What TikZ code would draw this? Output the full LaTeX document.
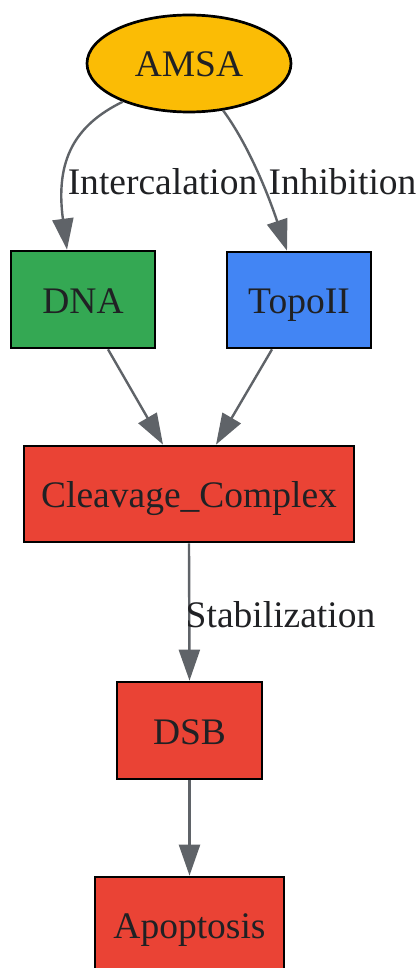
\documentclass[tikz,border=0pt]{standalone}
\usepackage{fontspec}
\setmainfont{Liberation Serif}
\usetikzlibrary{arrows.meta,shapes.geometric}
\definecolor{amsacol}{HTML}{FBBC05}
\definecolor{dnacol}{HTML}{34A853}
\definecolor{topocol}{HTML}{4285F4}
\definecolor{redcol}{HTML}{EA4335}
\definecolor{edgecol}{HTML}{5F6368}
\definecolor{txtcol}{HTML}{202124}
\tikzset{
  basenode/.style={draw=black, line width=2.7pt, inner sep=0pt, text=txtcol,
    font=\fontsize{37.5}{45}\selectfont, text height=34pt, text depth=7pt},
  boxnode/.style={basenode, rectangle, minimum height=96pt},
  ovalnode/.style={basenode, ellipse},
  edge/.style={draw=edgecol, line width=2.4pt,
    -{Triangle[length=31pt,width=21pt,fill=edgecol]}},
  elabel/.style={text=txtcol, font=\fontsize{37.5}{45}\selectfont, anchor=base, inner sep=0pt}
}
\begin{document}
\begin{tikzpicture}[x=1pt,y=-1pt]
\useasboundingbox (0,0) rectangle (418,968);
\clip (0,0) rectangle (418,968);
\node[ovalnode, fill=amsacol, minimum width=204pt, minimum height=97pt] (amsa) at (189,63.5) {AMSA};
\node[boxnode, fill=dnacol, minimum width=144pt, minimum height=97pt] (dna) at (83,299.5) {DNA};
\node[boxnode, fill=topocol, minimum width=144pt] (topo) at (299,300) {TopoII};
\node[boxnode, fill=redcol, minimum width=330pt] (cleav) at (189,494) {Cleavage\_Complex};
\node[boxnode, fill=redcol, minimum width=145pt, minimum height=97pt] (dsb) at (189.5,730.5) {DSB};
\node[boxnode, fill=redcol, minimum width=189pt] (apop) at (189.5,925) {Apoptosis};

\draw[edge] (amsa.210.6) .. controls (75,125) and (55,160) .. ([xshift=-16pt]dna.north);
\draw[edge] (amsa.306.2) .. controls (245,140) and (265,185) .. ([xshift=-12pt]topo.north);
\draw[edge] ([xshift=25pt]dna.south) -- ([xshift=-26pt]cleav.north);
\draw[edge] ([xshift=-27pt]topo.south) -- ([xshift=27pt]cleav.north);
\draw[edge] (cleav.south) -- (dsb.north);
\draw[edge] (dsb.south) -- (apop.north);

\node[elabel] (lint) at (162.5,195) {Intercalation};
\node[elabel] (linh) at (342.5,195) {Inhibition};
\node[elabel] (lstab) at (280.5,627) {Stabilization};
\end{tikzpicture}
\end{document}
